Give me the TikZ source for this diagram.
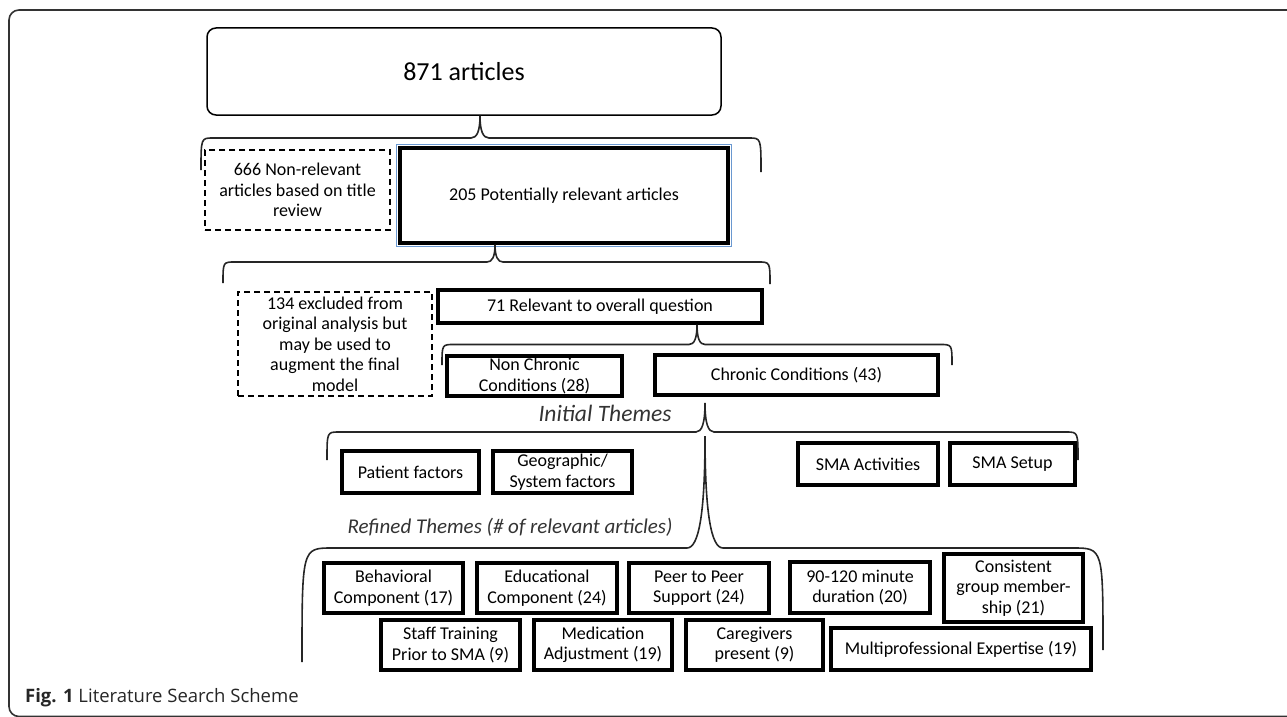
\documentclass[tikz,border=0pt]{standalone}
\usepackage{fontspec}
\setmainfont{Carlito}
\newfontfamily\capfont{Open Sans}
\usetikzlibrary{calc}
\definecolor{halo}{HTML}{6A98D0}
\tikzset{
 tbox/.style={draw=black, line width=3.2pt, inner sep=0pt, align=center, font=\fontsize{18}{20.5}\selectfont},
 dbox/.style={draw=black, line width=1.5pt, dash pattern=on 6pt off 4pt, inner sep=0pt, align=center, font=\fontsize{18}{20.5}\selectfont},
 brc/.style={draw=black!85, line width=1.6pt},
 lbl/.style={font=\fontsize{23.5}{26}\selectfont\itshape, text=black!80, inner sep=0pt},
}
\newcommand{\cbrace}[6]{%
 \draw[brc] let \p1=(#1), \p2=(#2), \p3=(#3), \p4=(#4), \n1={0.3*(\y1-\y4)} in
  (\p2) .. controls (\x2,\y4) .. (\x2+#6pt,\y4) -- (\x1-#5pt,\y4)
  .. controls (\x1-0.35*#5pt,\y4) and (\x1,\y4+\n1) .. (\p1)
  .. controls (\x1,\y4+\n1) and (\x1+0.35*#5pt,\y4) .. (\x1+#5pt,\y4)
  -- (\x3-#6pt,\y4) .. controls (\x3,\y4) .. (\p3);}
\begin{document}
\begin{tikzpicture}[x=1pt,y=-1pt]
\useasboundingbox (0,0) rectangle (1287,717);
\draw[draw=black!80, line width=1.6pt, rounded corners=10pt] (1300,10) -- (9,10) -- (9,716.5) -- (1300,716.5);

\node[draw=black, line width=1.5pt, rounded corners=9pt, minimum width=514pt, minimum height=87pt, inner sep=0pt, font=\fontsize{26}{30}\selectfont] (a) at (464,71.5) {871 articles};

\node[dbox, minimum width=185pt, minimum height=80pt] (n666) at (297.5,190) {666 Non-relevant\\articles based on title\\review};
\node[tbox, minimum width=328pt, minimum height=95pt] (p205) at (564,195.5) {205 Potentially relevant articles};
\draw[halo, line width=1pt] ([shift={(-1.9pt,1.9pt)}]p205.north west) rectangle ([shift={(1.9pt,-1.9pt)}]p205.south east);

\node[dbox, minimum width=194pt, minimum height=104pt] (n134) at (335,344) {134 excluded from\\original analysis but\\may be used to\\augment the final\\model};
\node[tbox, minimum width=324pt, minimum height=33pt] (r71) at (600,306.5) {71 Relevant to overall question};

\node[tbox, minimum width=175pt, minimum height=40pt] (nc) at (534.5,376) {Non Chronic\\Conditions (28)};
\node[tbox, minimum width=283pt, minimum height=40pt] (cc) at (796.5,375) {Chronic Conditions (43)};

\node[lbl] (it) at (605,413) {Initial Themes};

\node[tbox, minimum width=137pt, minimum height=42pt] (pf) at (410.5,472) {Patient factors};
\node[tbox, minimum width=139pt, minimum height=42pt] (gf) at (562.5,472) {Geographic/\\System factors};
\node[tbox, minimum width=140pt, minimum height=42pt] (sa) at (868,464) {SMA Activities};
\node[tbox, minimum width=125pt, minimum height=42pt] (ss) at (1012.5,464) {SMA Setup};

\node[lbl, font=\fontsize{21}{24}\selectfont\itshape] (rt) at (510,527) {Refined Themes (\# of relevant articles)};

\node[tbox, minimum width=139pt, minimum height=50pt] (bc) at (393.5,588) {Behavioral\\Component (17)};
\node[tbox, minimum width=140pt, minimum height=50pt] (ec) at (547,588) {Educational\\Component (24)};
\node[tbox, minimum width=140pt, minimum height=50pt] (ps) at (699,588) {Peer to Peer\\Support (24)};
\node[tbox, minimum width=140pt, minimum height=51pt] (du) at (860,587.5) {90-120 minute\\duration (20)};
\node[tbox, minimum width=139pt, minimum height=68pt] (cg) at (1013.5,588) {Consistent\\group member-\\ship (21)};
\node[tbox, minimum width=139pt, minimum height=50pt] (st) at (450.5,645) {Staff Training\\Prior to SMA (9)};
\node[tbox, minimum width=138pt, minimum height=50pt] (ma) at (603,645) {Medication\\Adjustment (19)};
\node[tbox, minimum width=137pt, minimum height=50pt] (cp) at (754.5,645) {Caregivers\\present (9)};
\node[tbox, minimum width=260pt, minimum height=42pt] (mp) at (961,649) {Multiprofessional Expertise (19)};

% braces
\coordinate (t1) at ([xshift=16pt]a.south);
\coordinate (l1) at (0,138);
\coordinate (e1l) at (201,170);
\coordinate (e1r) at (761,172);
\cbrace{t1}{e1l}{e1r}{l1}{9}{12}

\coordinate (t2) at ([xshift=-69pt]p205.south);
\coordinate (l2) at (0,262);
\coordinate (e2l) at (223,283);
\coordinate (e2r) at (770,284);
\cbrace{t2}{e2l}{e2r}{l2}{8}{12}

\coordinate (t3) at ([xshift=97pt]r71.south);
\coordinate (l3) at (0,344.5);
\coordinate (e3l) at (442,365);
\coordinate (e3r) at (952,365);
\cbrace{t3}{e3l}{e3r}{l3}{8}{12}

\coordinate (t4) at (705,403);
\coordinate (l4) at (0,432);
\coordinate (e4l) at (327,460);
\coordinate (e4r) at (1078,460);
\cbrace{t4}{e4l}{e4r}{l4}{9}{12}

\coordinate (t5) at (705,436);
\coordinate (l5) at (0,548);
\coordinate (e5l) at (302,662);
\coordinate (e5r) at (1103,650);
\cbrace{t5}{e5l}{e5r}{l5}{18}{30}

\node[anchor=west, inner sep=0pt, font=\capfont\fontsize{18.5}{22}\selectfont, text=black!85] (cap) at (25,698) {\textbf{Fig. 1} Literature Search Scheme};
\end{tikzpicture}
\end{document}
